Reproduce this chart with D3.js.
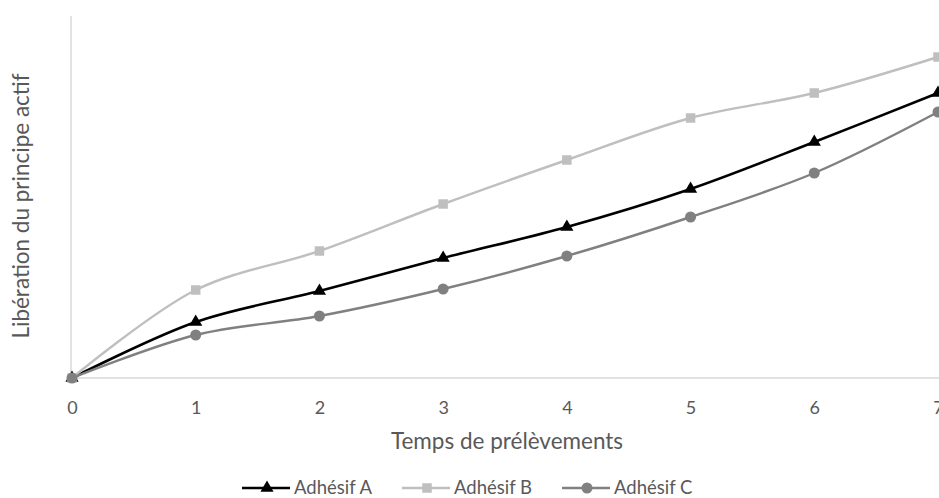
<!DOCTYPE html>
<html><head><meta charset="utf-8">
<script src="https://cdn.jsdelivr.net/npm/d3@7"></script>
<style>
html,body{margin:0;padding:0;background:#fff;overflow:hidden}
text{font-family:Lato,"Open Sans",sans-serif;fill:#595959}
</style></head>
<body>
<svg id="chart" width="939" height="498"></svg>
<script>
const categories = [0, 1, 2, 3, 4, 5, 6, 7];
const seriesNames = ["Adhésif A", "Adhésif B", "Adhésif C"];
const valuesA = [0, 56, 87, 120, 151, 189, 236, 285];
const valuesB = [0, 88, 127, 174, 218, 260, 285, 321];
const valuesC = [0, 43, 62, 89, 122, 161, 205, 266];
const xTickLabels = ["0", "1", "2", "3", "4", "5", "6", "7"];
const xTitle = "Temps de prélèvements";
const yTitle = "Libération du principe actif";

const svg = d3.select("#chart");
const x = d3.scaleLinear().domain([0, 7]).range([72, 938]);
const y = d3.scaleLinear().domain([0, 362]).range([378, 16]);

// axes lines
svg.append("line").attr("x1", x(0)).attr("x2", 939).attr("y1", y(0)).attr("y2", y(0))
  .attr("stroke", "#d9d9d9").attr("stroke-width", 1.5);
svg.append("line").attr("x1", x(0) - 1).attr("x2", x(0) - 1).attr("y1", y(0)).attr("y2", y(362))
  .attr("stroke", "#d9d9d9").attr("stroke-width", 1.5);

// tick labels
const xAxis = d3.axisBottom(x).tickValues(categories).tickFormat((d, i) => xTickLabels[i]).tickSize(0).tickPadding(0);
const gx = svg.append("g").attr("transform", `translate(0,${y(0)})`).call(xAxis);
gx.select(".domain").remove();
gx.selectAll("text").attr("dy", null).attr("y", 36).style("font-size", "18px").attr("fill", "#595959");

svg.append("text").attr("x", 507).attr("y", 449).attr("text-anchor", "middle")
  .style("font-size", "22.5px").text(xTitle);
svg.append("text").attr("transform", "translate(29,206) rotate(-90)").attr("text-anchor", "middle")
  .style("font-size", "22.5px").text(yTitle);

const series = [
  {name: seriesNames[0], values: valuesA, color: "#000000", width: 2.6, symbol: d3.symbolTriangle, size: 75},
  {name: seriesNames[1], values: valuesB, color: "#bfbfbf", width: 2.4, symbol: d3.symbolSquare, size: 90},
  {name: seriesNames[2], values: valuesC, color: "#808080", width: 2.4, symbol: d3.symbolCircle, size: 95}
];

const line = d3.line().x((d, i) => x(categories[i])).y(d => y(d)).curve(d3.curveCatmullRom.alpha(0.5));

series.forEach(s => {
  svg.append("path").attr("d", line(s.values)).attr("fill", "none")
    .attr("stroke", s.color).attr("stroke-width", s.width).attr("stroke-linejoin", "round");
  svg.append("g").selectAll("path").data(s.values).join("path")
    .attr("transform", (d, i) => `translate(${x(categories[i])},${y(d)})`)
    .attr("d", d3.symbol().type(s.symbol).size(s.size)).attr("fill", s.color);
});

// legend
const legendX = [242, 402, 562];
series.forEach((s, i) => {
  const g = svg.append("g").attr("transform", `translate(${legendX[i]},488)`);
  g.append("line").attr("x1", 0).attr("x2", 48).attr("y1", 0).attr("y2", 0)
    .attr("stroke", s.color).attr("stroke-width", s.width);
  g.append("path").attr("transform", "translate(25,0)")
    .attr("d", d3.symbol().type(s.symbol).size(s.size)).attr("fill", s.color);
  g.append("text").attr("x", 52).attr("y", 0).attr("dy", "0.35em")
    .style("font-size", "18.5px").text(s.name);
});
</script>
</body></html>
